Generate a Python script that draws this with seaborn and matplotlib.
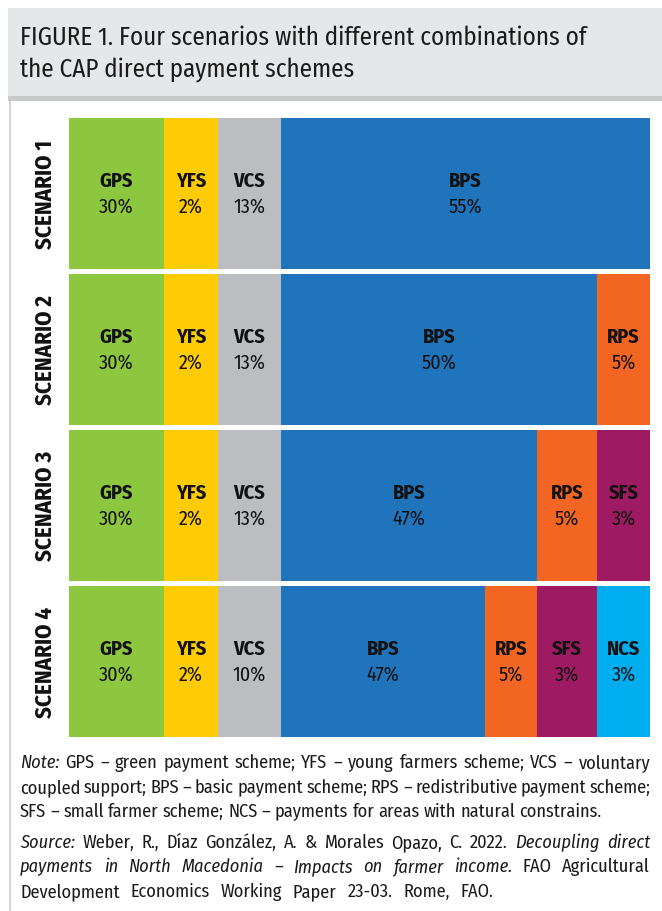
import matplotlib
matplotlib.use("Agg")
import matplotlib.pyplot as plt
import seaborn as sns
import pandas as pd
from matplotlib.patches import Rectangle

# data: share of each payment scheme per scenario (%)
scenarios = ["SCENARIO 1", "SCENARIO 2", "SCENARIO 3", "SCENARIO 4"]
schemes = ["GPS", "YFS", "VCS", "BPS", "RPS", "SFS", "NCS"]
gps = [30, 30, 30, 30]
yfs = [2, 2, 2, 2]
vcs = [13, 13, 13, 10]
bps = [55, 50, 47, 47]
rps = [0, 5, 5, 5]
sfs = [0, 0, 3, 3]
ncs = [0, 0, 0, 3]

# the boxes in the figure are schematic, not proportional to the shares:
# box widths (px) as drawn in the original
box_w = {
    "GPS": [95, 95, 95, 95],
    "YFS": [54, 54, 54, 54],
    "VCS": [63, 63, 63, 63],
    "BPS": [369, 316, 256, 204],
    "RPS": [0, 53, 60, 52],
    "SFS": [0, 0, 53, 60],
    "NCS": [0, 0, 0, 53],
}
colors = {"GPS": "#8dc63f", "YFS": "#ffcb05", "VCS": "#bcbdc0", "BPS": "#1f74bc",
          "RPS": "#f26522", "SFS": "#9e1b63", "NCS": "#00aeef"}

shares = pd.DataFrame({"scenario": scenarios, "GPS": gps, "YFS": yfs, "VCS": vcs,
                       "BPS": bps, "RPS": rps, "SFS": sfs, "NCS": ncs})
widths = pd.DataFrame(box_w, index=scenarios)
right = widths.cumsum(axis=1)
left = right - widths

sns.set_theme(style="white")
FONT = ["Fira Sans Condensed", "DejaVu Sans"]
plt.rcParams["font.family"] = FONT

W, H = 662, 912
fig = plt.figure(figsize=(W / 100, H / 100), dpi=100)

def fx(x):
    return x / W

def fy(y):
    return 1 - y / H

# header box + frame
fig.patches.append(Rectangle((fx(8), fy(97)), fx(654), 88 / H, transform=fig.transFigure,
                             facecolor="#e6e7e8", edgecolor="none"))
fig.patches.append(Rectangle((fx(8), fy(102)), fx(654), 5 / H, transform=fig.transFigure,
                             facecolor="#c8c9cb", edgecolor="none"))
fig.patches.append(Rectangle((fx(9), fy(912)), fx(2), 810 / H, transform=fig.transFigure,
                             facecolor="#d4d4d6", edgecolor="none"))

fig.text(fx(20), fy(38), "FIGURE 1. Four scenarios with different combinations of",
         fontsize=18, color="#1a1a1a", va="center", ha="left")
fig.text(fx(20), fy(70), "the CAP direct payment schemes",
         fontsize=18, color="#1a1a1a", va="center", ha="left")

# stacked bars
ax = fig.add_axes([fx(69), fy(740), fx(581), 624 / H])
for s in reversed(schemes):
    d = pd.DataFrame({"scenario": scenarios, "right": right[s].values})
    sns.barplot(data=d, x="right", y="scenario", orient="h", color=colors[s],
                saturation=1, width=151 / 156, linewidth=0, ax=ax)
ax.set_xlim(0, 581)
ax.set_ylim(3.5, -0.5)
ax.axis("off")

off = 13 / 156
for i, sc in enumerate(scenarios):
    for s in schemes:
        v = shares.loc[i, s]
        if v <= 0:
            continue
        xc = left.loc[sc, s] + widths.loc[sc, s] / 2
        ax.text(xc, i - off, s, ha="center", va="center", fontsize=14.5,
                fontweight="bold", color="#111111")
        ax.text(xc, i + off, f"{v}%", ha="center", va="center", fontsize=14.5,
                color="#111111")
    fig.text(fx(45), fy(118 + 156 * i + 76), sc, rotation=90, ha="center", va="center",
             fontsize=16.5, fontweight="bold", color="#111111")

# notes, laid out word by word so the lines can be justified
renderer = fig.canvas.get_renderer()

def text_line(parts, y, x0=20, x1=None, size=13.2):
    words = []
    for txt, it in parts:
        for w in txt.split(" "):
            if w:
                words.append((w, it))
    objs = [fig.text(0, fy(y), w, fontsize=size, style="italic" if it else "normal",
                     color="#1a1a1a", va="center", ha="left") for w, it in words]
    ws = [o.get_window_extent(renderer).width for o in objs]
    probe = fig.text(0, 0, "a a", fontsize=size)
    probe2 = fig.text(0, 0, "aa", fontsize=size)
    sp = probe.get_window_extent(renderer).width - probe2.get_window_extent(renderer).width
    probe.remove()
    probe2.remove()
    gap = sp if x1 is None else (x1 - x0 - sum(ws)) / (len(ws) - 1)
    x = x0
    for o, w in zip(objs, ws):
        o.set_x(fx(x))
        x += w + gap

text_line([("Note:", True), ("GPS – green payment scheme; YFS – young farmers scheme; VCS – voluntary", False)], 763, x1=650)
text_line([("coupled support; BPS – basic payment scheme; RPS – redistributive payment scheme;", False)], 788, x1=651)
text_line([("SFS – small farmer scheme; NCS – payments for areas with natural constrains.", False)], 812)
text_line([("Source:", True), ("Weber, R., Díaz González, A. & Morales Opazo, C. 2022.", False),
           ("Decoupling direct", True)], 843, x1=650)
text_line([("payments in North Macedonia – Impacts on farmer income.", True),
           ("FAO Agricultural", False)], 867, x1=650)
text_line([("Development Economics Working Paper 23-03. Rome, FAO.", False)], 892, x1=493)

fig.savefig("out.png", dpi=100)
